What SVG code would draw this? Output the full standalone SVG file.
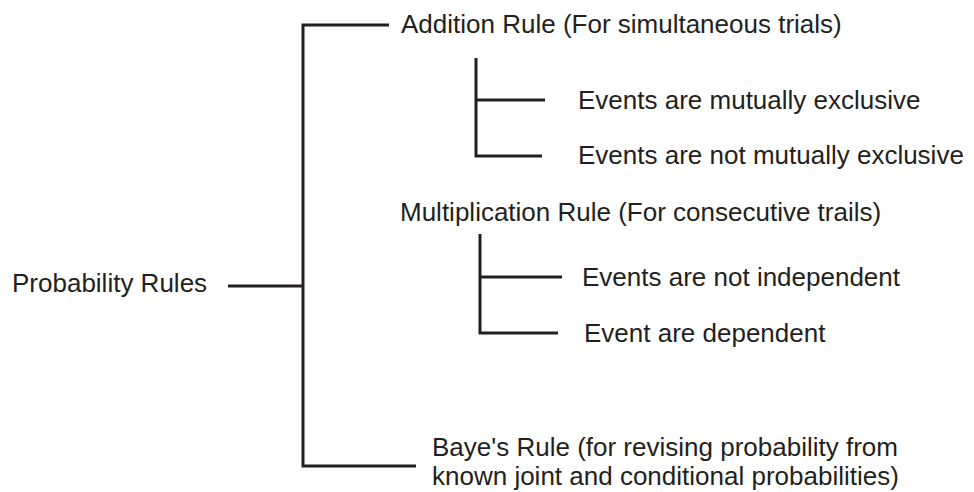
<svg xmlns="http://www.w3.org/2000/svg" width="974" height="492" viewBox="0 0 974 492">
<style>
text { font-family: "Liberation Sans", Arial, sans-serif; font-size: 26px; fill: #231f20; }
.c { fill: none; stroke: #231f20; stroke-width: 3; stroke-linecap: butt; stroke-linejoin: miter; }
</style>
<rect width="974" height="492" fill="#ffffff"/>
<g id="connectors">
  <path class="c" d="M389,25 H303 V466 H416"/>
  <path class="c" d="M228,286 H303"/>
  <path class="c" d="M476,58 V156 H542"/>
  <path class="c" d="M476,100 H545"/>
  <path class="c" d="M480,234 V333 H558"/>
  <path class="c" d="M480,277 H562"/>
</g>
<g id="root"><text x="12" y="292">Probability Rules</text></g>
<g id="addition"><text x="401" y="33">Addition Rule (For simultaneous trials)</text></g>
<g id="mutually-exclusive"><text x="578" y="109">Events are mutually exclusive</text></g>
<g id="not-mutually-exclusive"><text x="578" y="164">Events are not mutually exclusive</text></g>
<g id="multiplication"><text x="400" y="221">Multiplication Rule (For consecutive trails)</text></g>
<g id="not-independent"><text x="582" y="286">Events are not independent</text></g>
<g id="dependent"><text x="584" y="342">Event are dependent</text></g>
<g id="bayes"><text x="432" y="456">Baye's Rule (for revising probability from<tspan x="432" y="485">known joint and conditional probabilities)</tspan></text></g>
</svg>
